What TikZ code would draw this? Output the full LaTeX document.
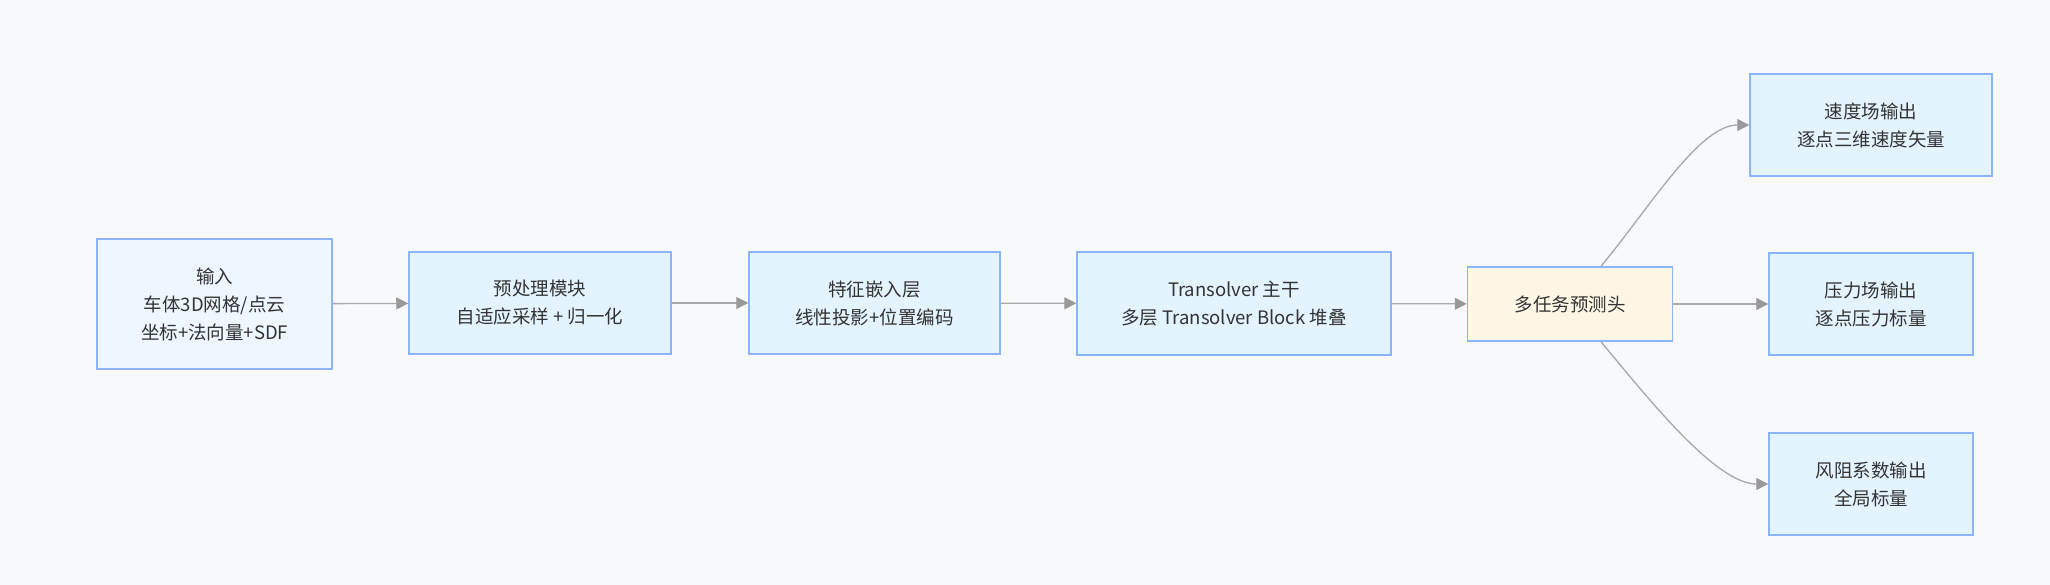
\documentclass[tikz,border=0pt]{standalone}
\usepackage{fontspec}
\setmainfont{Noto Sans CJK SC}
\usetikzlibrary{arrows.meta}
\definecolor{bg}{HTML}{F8F9FB}
\definecolor{bord}{HTML}{8CB4FA}
\definecolor{fillA}{HTML}{EEF6FF}
\definecolor{fillB}{HTML}{E3F4FF}
\definecolor{fillC}{HTML}{FFF7E6}
\definecolor{linegray}{HTML}{A8A8A8}
\definecolor{tipgray}{HTML}{999999}
\definecolor{txt}{HTML}{333333}
\tikzset{
  box/.style={draw=bord, line width=1.5pt, fill=fillB, align=center, text=txt,
    font=\fontsize{18.5}{28}\selectfont, inner sep=0pt},
  conn/.style={draw=linegray, line width=1.3pt,
    -{Triangle[length=12pt,width=12pt,color=tipgray]}}
}
\begin{document}
\begin{tikzpicture}[x=1pt,y=-1pt]
\fill[bg] (0,0) rectangle (2050,585);
\useasboundingbox (0,0) rectangle (2050,585);
\node[box, fill=fillA, minimum width=235pt, minimum height=130pt] (in) at (214.5,304) {输入\\车体3D网格/点云\\坐标+法向量+SDF};
\node[box, minimum width=262pt, minimum height=102pt] (pre) at (540,303) {预处理模块\\自适应采样 + 归一化};
\node[box, minimum width=251pt, minimum height=102pt] (feat) at (874.5,303) {特征嵌入层\\线性投影+位置编码};
\node[box, minimum width=314pt, minimum height=103pt] (trans) at (1234,303.5) {Transolver 主干\\多层 Transolver Block 堆叠};
\node[box, fill=fillC, minimum width=205pt, minimum height=74pt] (multi) at (1570,304) {多任务预测头};
\node[box, minimum width=242pt, minimum height=102pt] (vel) at (1871,125) {速度场输出\\逐点三维速度矢量};
\node[box, minimum width=204pt, minimum height=102pt] (pres) at (1871,304) {压力场输出\\逐点压力标量};
\node[box, minimum width=204pt, minimum height=102pt] (drag) at (1871,484) {风阻系数输出\\全局标量};
\draw[conn] (in) -- (pre);
\draw[conn] (pre) -- (feat);
\draw[conn] (feat) -- (trans);
\draw[conn] (trans) -- (multi);
\draw[conn] (multi) -- (pres);
\draw[conn] ([xshift=31pt]multi.north) .. controls +(49,-59) and +(-50,0) .. (vel.west);
\draw[conn] ([xshift=31pt]multi.south) .. controls +(49,59) and +(-52,0) .. (drag.west);
\end{tikzpicture}
\end{document}
